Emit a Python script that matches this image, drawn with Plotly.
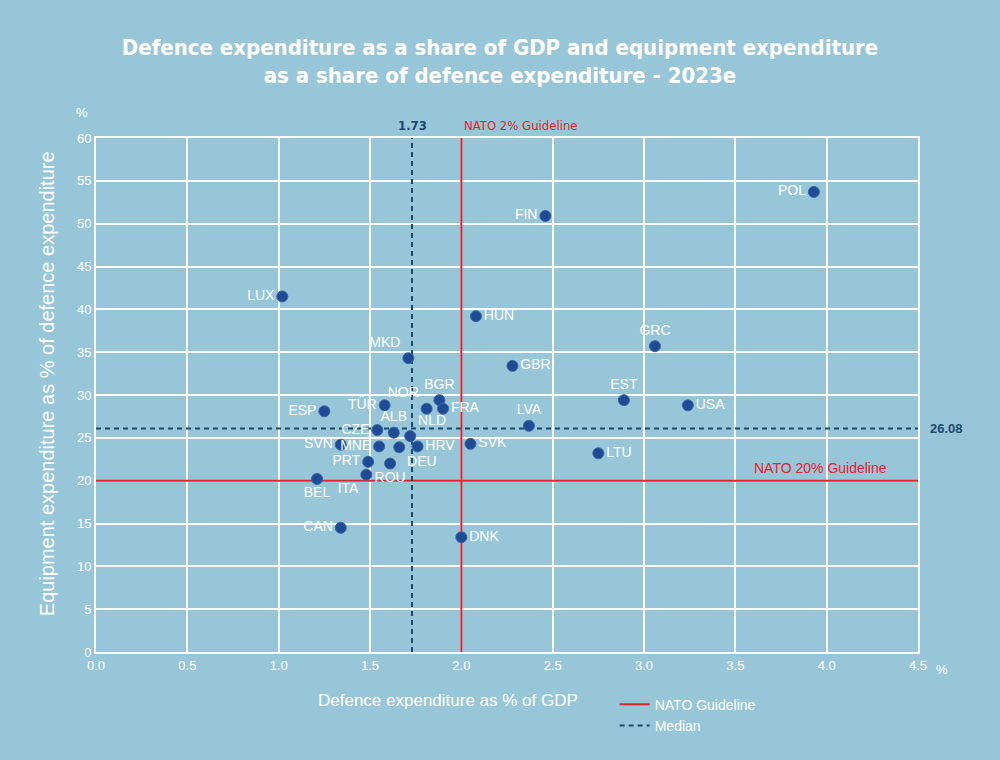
import plotly.graph_objects as go

countries = ["POL", "FIN", "LUX", "HUN", "MKD", "GRC", "GBR", "EST", "USA", "BGR",
             "NOR", "FRA", "TÜR", "ESP", "LVA", "CZE", "ALB", "NLD", "SVN", "MNE",
             "HRV", "SVK", "LTU", "DEU", "ROU", "PRT", "ITA", "BEL", "CAN", "DNK"]
gdp_share = [3.93, 2.46, 1.02, 2.08, 1.71, 3.06, 2.28, 2.89, 3.24, 1.88,
             1.81, 1.90, 1.58, 1.25, 2.37, 1.54, 1.63, 1.72, 1.34, 1.55,
             1.76, 2.05, 2.75, 1.66, 1.61, 1.49, 1.48, 1.21, 1.34, 2.00]
equip_share = [53.7, 50.9, 41.5, 39.2, 34.3, 35.7, 33.4, 29.4, 28.8, 29.4,
               28.4, 28.4, 28.8, 28.1, 26.4, 25.9, 25.6, 25.2, 24.2, 24.0,
               24.0, 24.3, 23.2, 23.9, 22.0, 22.2, 20.7, 20.2, 14.5, 13.4]
label_pos = ["middle left", "middle left", "middle left", "middle right", "top left",
             "top center", "middle right", "top center", "middle right", "top center",
             "top left", "middle right", "middle left", "middle left", "top center",
             "middle left", "top center", "top right", "middle left", "middle left",
             "middle right", "middle right", "middle right", "bottom right", "bottom center",
             "middle left", "bottom left", "bottom center", "middle left", "middle right"]

median_gdp = 1.73
median_equip = 26.08
nato_gdp = 2.0
nato_equip = 20.0
x_ticks = [0.0, 0.5, 1.0, 1.5, 2.0, 2.5, 3.0, 3.5, 4.0, 4.5]
y_ticks = [0, 5, 10, 15, 20, 25, 30, 35, 40, 45, 50, 55, 60]

BG = "#97c6d9"
RED = "#e8202a"
NAVY = "#1b4a6b"
DOT = "#1f4a94"
FONT = "Liberation Sans"

fig = go.Figure()

fig.add_trace(go.Scatter(x=[nato_gdp, nato_gdp], y=[0, 60], mode="lines",
                         line=dict(color=RED, width=2), name="NATO Guideline",
                         legendgroup="nato", showlegend=True, hoverinfo="skip"))
fig.add_trace(go.Scatter(x=[0, 4.5], y=[nato_equip, nato_equip], mode="lines",
                         line=dict(color=RED, width=2), name="NATO Guideline",
                         legendgroup="nato", showlegend=False, hoverinfo="skip"))
fig.add_trace(go.Scatter(x=[median_gdp, median_gdp], y=[0, 60], mode="lines",
                         line=dict(color=NAVY, width=2, dash="5px,4px"), name="Median",
                         legendgroup="med", showlegend=True, hoverinfo="skip"))
fig.add_trace(go.Scatter(x=[0, 4.5], y=[median_equip, median_equip], mode="lines",
                         line=dict(color=NAVY, width=2, dash="5px,4px"), name="Median",
                         legendgroup="med", showlegend=False, hoverinfo="skip"))

fig.add_trace(go.Scatter(x=gdp_share, y=equip_share, mode="markers+text",
                         text=countries, textposition=label_pos,
                         textfont=dict(color="white", size=14, family=FONT),
                         marker=dict(color=DOT, size=11, line=dict(color="#3a64a8", width=1)),
                         showlegend=False, cliponaxis=False, name="Countries"))

fig.update_layout(
    width=1000, height=760,
    paper_bgcolor=BG, plot_bgcolor=BG,
    margin=dict(l=96, r=82, t=138, b=108),
    font=dict(family=FONT, color="white", size=13),
    title=dict(
        text="<b>Defence expenditure as a share of GDP and equipment expenditure<br>as a share of defence expenditure - 2023e</b>",
        x=0.5, xanchor="center", y=0.928, yanchor="middle",
        font=dict(family="DejaVu Sans Condensed", size=22, color="white")),
    xaxis=dict(range=[0, 4.5], tickvals=x_ticks, tickformat=".1f",
               showgrid=True, gridcolor="white", gridwidth=2,
               showline=True, linecolor="white", linewidth=2, mirror=True,
               zeroline=False, ticks="", tickfont=dict(size=13, color="white")),
    yaxis=dict(range=[0, 60], tickvals=y_ticks,
               showgrid=True, gridcolor="white", gridwidth=2,
               showline=True, linecolor="white", linewidth=2, mirror=True,
               zeroline=False, ticks="", tickfont=dict(size=13, color="white")),
    legend=dict(x=0.631, y=-0.0714, xanchor="left", yanchor="top",
                bgcolor="rgba(0,0,0,0)", font=dict(size=14, color="white"),
                tracegroupgap=0, itemwidth=30),
    showlegend=True,
)

# axis titles
fig.add_annotation(x=0.428, y=0, xref="paper", yref="paper",
                   text="Defence expenditure as % of GDP", showarrow=False,
                   xanchor="center", yanchor="middle", yshift=-48,
                   font=dict(color="white", size=17, family=FONT))
fig.add_annotation(x=0, y=0.521, xref="paper", yref="paper",
                   text="Equipment expenditure as % of defence expenditure", showarrow=False,
                   textangle=-90, xanchor="center", yanchor="middle", xshift=-49,
                   font=dict(color="white", size=20, family=FONT))

fig.add_annotation(x=median_gdp, y=60, xref="x", yref="y", text="<b>1.73</b>",
                   showarrow=False, yanchor="bottom", yshift=3,
                   font=dict(color=NAVY, size=13, family="DejaVu Sans Condensed"))
fig.add_annotation(x=nato_gdp, y=60, xref="x", yref="y", text="NATO 2% Guideline",
                   showarrow=False, yanchor="bottom", xanchor="left", xshift=1, yshift=3,
                   font=dict(color=RED, size=13, family="DejaVu Sans Condensed"))
fig.add_annotation(x=4.5, y=median_equip, xref="x", yref="y", text="<b>26.08</b>",
                   showarrow=False, xanchor="left", xshift=10,
                   font=dict(color=NAVY, size=13, family=FONT))
fig.add_annotation(x=4.34, y=nato_equip, xref="x", yref="y", text="NATO 20% Guideline",
                   showarrow=False, xanchor="right", yanchor="bottom", yshift=3,
                   font=dict(color=RED, size=14, family=FONT))
fig.add_annotation(x=1, y=0, xref="paper", yref="paper", text="%",
                   showarrow=False, xanchor="left", yanchor="top", xshift=16, yshift=-8,
                   font=dict(color="white", size=13, family=FONT))
fig.add_annotation(x=0, y=1, xref="paper", yref="paper", text="%",
                   showarrow=False, xanchor="right", yanchor="bottom", xshift=-6, yshift=16,
                   font=dict(color="white", size=13, family=FONT))

fig.write_html("out.html")
